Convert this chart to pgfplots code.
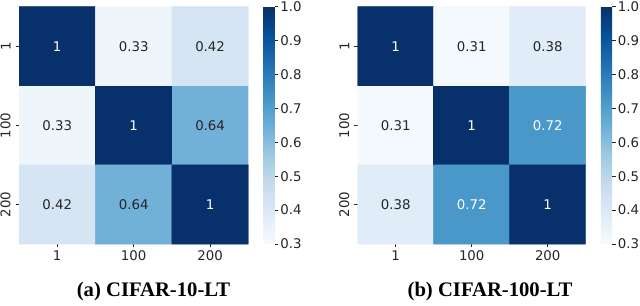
\documentclass[border=0pt]{standalone}
\usepackage{pgfplots}
\pgfplotsset{compat=1.18}
\usepackage{fontspec}
\setmainfont{DejaVu Sans}
\newfontfamily\capfont{Liberation Serif}
\definecolor{annodark}{RGB}{38,38,38}
\newcommand{\tkfont}{\fontsize{10}{12}\selectfont}
\pgfplotsset{
 colormap={sbblues}{rgb255(0)=(247,251,255) rgb255(1)=(222,235,247) rgb255(2)=(198,219,239) rgb255(3)=(158,202,225) rgb255(4)=(107,174,214) rgb255(5)=(66,146,198) rgb255(6)=(33,113,181) rgb255(7)=(8,81,156) rgb255(8)=(8,48,107)},
 hm/.style={
  scale only axis, height=178pt,
  xmin=-0.5,xmax=2.5,ymin=-0.5,ymax=2.5, y dir=reverse,
  enlargelimits=false,
  axis line style={draw=none},
  xtick={0,1,2}, ytick={0,1,2}, xticklabels={1,100,200}, yticklabels={1,100,200},
  tick align=outside, tick pos=left, major tick length=2.6pt,
  tick style={color=annodark, line width=0.6pt},
  ticklabel style={font=\tkfont, text=annodark},
  yticklabel style={rotate=90, anchor=south, inner sep=0pt},
  yticklabel shift=3.5pt,
  xticklabel style={anchor=north, inner sep=0pt},
  xticklabel shift=2.5pt,
  colormap name=sbblues,
  point meta min=0.3, point meta max=1,
  colorbar,
  colorbar style={
   at={(parent axis.north east)}, anchor=north west, xshift=2.75pt,
   scale only axis, width=8.5pt, height=178pt,
   axis line style={draw=none},
   ytick={0.3,0.4,0.5,0.6,0.7,0.8,0.9,1.0},
   tick align=outside, major tick length=2.6pt,
   ytick pos=right, yticklabel pos=right,
   tick style={color=annodark, line width=0.6pt},
   yticklabel style={font=\tkfont, text=annodark, anchor=west, inner sep=0pt, xshift=1.5pt,
     /pgf/number format/.cd, fixed, fixed zerofill, precision=1, assume math mode=true},
  },
 },
 anno/.style={only marks, mark=none, nodes near coords, point meta=explicit symbolic,
   nodes near coords style={anchor=center, font=\tkfont, text=#1}},
}
\begin{document}
\begin{tikzpicture}
\useasboundingbox (0,0) rectangle (480pt,228.75pt);
\begin{axis}[hm, width=172pt, at={(14.25pt,45.75pt)}, anchor=south west]
\addplot[matrix plot*, mesh/cols=3, point meta=explicit] table[meta=c]{
x y c
0 0 1
1 0 0.33
2 0 0.42
0 1 0.33
1 1 1
2 1 0.64
0 2 0.42
1 2 0.64
2 2 1
};
\addplot[anno=white] table[meta=l]{
x y l
0 0 1
1 1 1
2 2 1
};
\addplot[anno=annodark] table[meta=l]{
x y l
1 0 0.33
2 0 0.42
0 1 0.33
2 1 0.64
0 2 0.42
1 2 0.64
};
\end{axis}
\begin{axis}[hm, width=171pt, at={(268.3pt,45.75pt)}, anchor=south west]
\addplot[matrix plot*, mesh/cols=3, point meta=explicit] table[meta=c]{
x y c
0 0 1
1 0 0.31
2 0 0.38
0 1 0.31
1 1 1
2 1 0.72
0 2 0.38
1 2 0.72
2 2 1
};
\addplot[anno=white] table[meta=l]{
x y l
0 0 1
1 1 1
2 2 1
2 1 0.72
1 2 0.72
};
\addplot[anno=annodark] table[meta=l]{
x y l
1 0 0.31
2 0 0.38
0 1 0.31
0 2 0.38
};
\end{axis}
\node[font=\capfont\bfseries\fontsize{15.5}{18}\selectfont, inner sep=0pt] at (115.1pt,9.75pt) {(a) CIFAR-10-LT};
\node[font=\capfont\bfseries\fontsize{15.5}{18}\selectfont, inner sep=0pt] at (367.5pt,9.75pt) {(b) CIFAR-100-LT};
\end{tikzpicture}
\end{document}
